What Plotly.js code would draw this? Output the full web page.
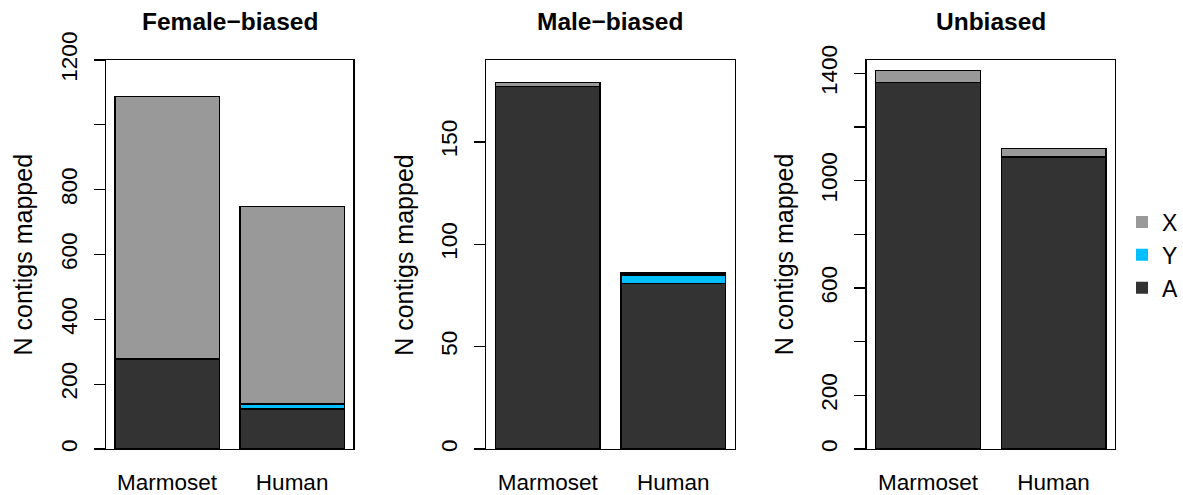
<!DOCTYPE html>
<html>
<head>
<meta charset="utf-8">
<script src="https://cdn.plot.ly/plotly-3.0.1.min.js"></script>
<style>
  html, body { margin: 0; padding: 0; background: #fff; }
  #chart { width: 1183px; height: 495px; }
</style>
</head>
<body>
<div id="chart"></div>
<script>
// Contigs mapped to autosomes (A), X and Y, per species and bias class
const categories = ['Marmoset', 'Human'];
const panelTitles = ['Female\u2212biased', 'Male\u2212biased', 'Unbiased'];

const femaleA = [278, 123];
const femaleY = [0, 16];
const femaleX = [810, 609];

const maleA = [177, 81];
const maleY = [0, 4];
const maleX = [2, 1];

const unbiasedA = [1365, 1088];
const unbiasedY = [0, 3];
const unbiasedX = [47, 29];

const yMax = [1200, 190, 1450];
const yTicks = [
  [0, 200, 400, 600, 800, 1000, 1200],
  [0, 50, 100, 150],
  [0, 200, 400, 600, 800, 1000, 1200, 1400]
];
const yTickText = [
  ['0', '200', '400', '600', '800', '', '1200'],
  ['0', '50', '100', '150'],
  ['0', '200', '', '600', '', '1000', '', '1400']
];

const colA = '#333333', colY = '#00BFFF', colX = '#999999';
const FONT = 'Liberation Sans, Arial, Helvetica, sans-serif';

const W = 1183, H = 495;
const boxes = [[106, 354], [487, 736], [868, 1117]];
const boxTop = 60, boxBottom = 449;

const series = [
  [femaleA, femaleY, femaleX],
  [maleA, maleY, maleX],
  [unbiasedA, unbiasedY, unbiasedX]
];

const traces = [];
series.forEach((s, i) => {
  const sfx = i === 0 ? '' : String(i + 1);
  [[s[0], colA, 'A'], [s[1], colY, 'Y'], [s[2], colX, 'X']].forEach(([vals, col, nm]) => {
    traces.push({
      type: 'bar', x: categories, y: vals, name: nm,
      xaxis: 'x' + sfx, yaxis: 'y' + sfx,
      marker: { color: col, line: { color: '#000', width: 1.3 } },
      showlegend: false, hoverinfo: 'x+y+name'
    });
  });
});

// legend keys (plain squares, X on top)
[['X', colX], ['Y', colY], ['A', colA]].forEach(([nm, col]) => {
  traces.push({
    type: 'scatter', mode: 'markers', x: [null], y: [null], name: nm,
    xaxis: 'x', yaxis: 'y',
    marker: { symbol: 'square', size: 12, color: col, line: { width: 0 } },
    showlegend: true
  });
});

const layout = {
  width: W, height: H,
  margin: { l: 0, r: 0, t: 0, b: 0 },
  paper_bgcolor: '#fff', plot_bgcolor: '#fff',
  font: { family: FONT, size: 22, color: '#000' },
  barmode: 'stack', bargap: 1 / 6,
  showlegend: true,
  legend: {
    x: 1124 / W, xanchor: 'left', y: 1 - 255 / H, yanchor: 'middle',
    font: { family: FONT, size: 23, color: '#000' },
    traceorder: 'normal', tracegroupgap: 0, bgcolor: 'rgba(0,0,0,0)'
  },
  annotations: []
};

boxes.forEach((b, i) => {
  const sfx = i === 0 ? '' : String(i + 1);
  layout['xaxis' + sfx] = {
    domain: [b[0] / W, b[1] / W],
    type: 'category', range: [-0.49, 1.49],
    showline: true, mirror: true, linecolor: '#000', linewidth: 1.3,
    ticks: '', showgrid: false, zeroline: false, fixedrange: true,
    tickfont: { family: FONT, size: 22.5, color: '#000' },
    ticklabelstandoff: 13,
    anchor: 'y' + sfx
  };
  layout['yaxis' + sfx] = {
    domain: [1 - boxBottom / H, 1 - boxTop / H],
    range: [0, yMax[i]],
    tickmode: 'array', tickvals: yTicks[i], ticktext: yTickText[i],
    tickangle: -90,
    ticks: 'outside', ticklen: 11, tickwidth: 1.3, tickcolor: '#000',
    showline: true, mirror: true, linecolor: '#000', linewidth: 1.3,
    showgrid: false, zeroline: false, fixedrange: true,
    tickfont: { family: FONT, size: 22.5, color: '#000' },
    ticklabelstandoff: 8,
    anchor: 'x' + sfx
  };
  const cx = (b[0] + b[1]) / 2 / W;
  layout.annotations.push({
    text: '<b>' + panelTitles[i] + '</b>', xref: 'paper', yref: 'paper',
    x: cx, y: 1 - 22 / H, xanchor: 'center', yanchor: 'middle',
    showarrow: false, font: { family: FONT, size: 24.5, color: '#000' }
  });
  layout.annotations.push({
    text: 'N contigs mapped', xref: 'paper', yref: 'paper',
    x: (b[0] - 83) / W, y: 1 - ((boxTop + boxBottom) / 2) / H,
    xanchor: 'center', yanchor: 'middle', textangle: -90,
    showarrow: false, font: { family: FONT, size: 25, color: '#000' }
  });
});

Plotly.newPlot('chart', traces, layout, { displayModeBar: false, staticPlot: true });
</script>
</body>
</html>
